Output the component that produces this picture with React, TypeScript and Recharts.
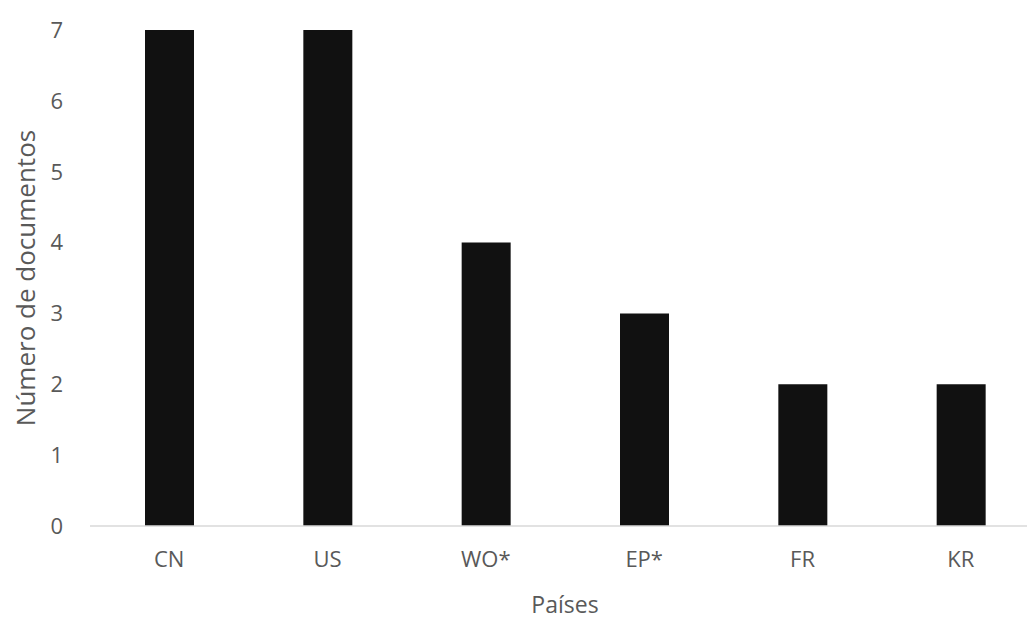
import { BarChart, Bar, XAxis, YAxis } from 'recharts';

// Países y número de documentos
const countries = ['CN', 'US', 'WO*', 'EP*', 'FR', 'KR'];
const documents = [7, 7, 4, 3, 2, 2];
const yTicks = [0, 1, 2, 3, 4, 5, 6, 7];

const data = countries.map((country, i) => ({ country, docs: documents[i] }));

const font = '"Open Sans", "DejaVu Sans", sans-serif';
const textColor = '#595959';

export default function App() {
  // the plot runs past the right edge in the original, so the chart is a bit wider than the frame
  return (
    <div
      style={{
        position: 'absolute',
        left: 0,
        top: 0,
        width: 1027,
        height: 619,
        overflow: 'hidden',
        background: '#fff',
      }}
    >
      <BarChart
        width={1040}
        height={619}
        data={data}
        margin={{ top: 30, right: 0, left: 0, bottom: 0 }}
        barSize={49}
      >
        <XAxis
          dataKey="country"
          height={93}
          axisLine={{ stroke: '#d9d9d9', strokeWidth: 1.5 }}
          tickLine={false}
          tickSize={0}
          tickMargin={25}
          tick={{ fill: textColor, fontSize: 22, fontFamily: font }}
          label={{
            value: 'Países',
            position: 'insideBottom',
            offset: 6,
            style: { fill: textColor, fontSize: 23, fontFamily: font },
          }}
        />
        <YAxis
          width={90}
          domain={[0, 7]}
          ticks={yTicks}
          axisLine={false}
          tickLine={false}
          tickSize={0}
          tickMargin={27}
          tick={{ fill: textColor, fontSize: 22, fontFamily: font }}
          label={{
            value: 'Número de documentos',
            angle: -90,
            position: 'insideLeft',
            offset: 26,
            style: { fill: textColor, fontSize: 26, fontFamily: font, textAnchor: 'middle' },
          }}
        />
        <Bar dataKey="docs" fill="#111111" isAnimationActive={false} />
      </BarChart>
    </div>
  );
}
